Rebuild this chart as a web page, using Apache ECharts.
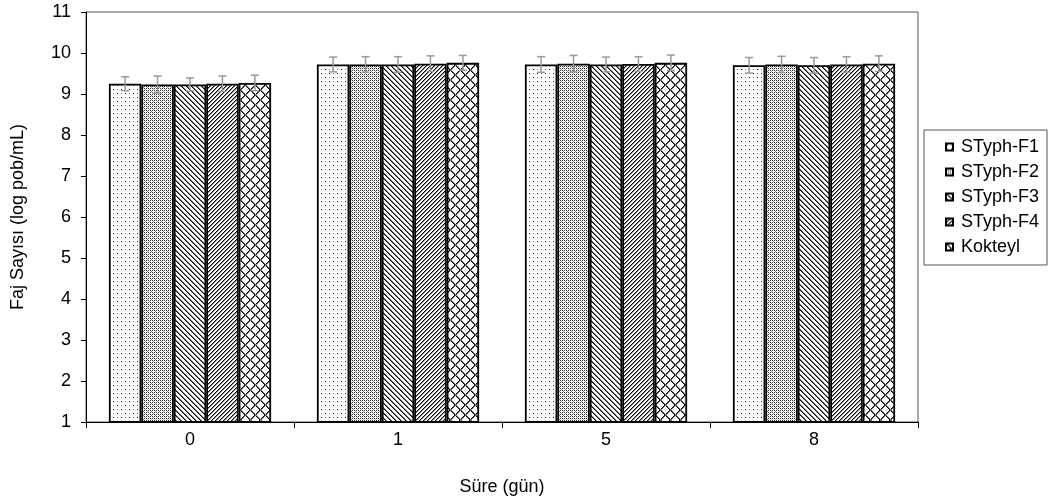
<!DOCTYPE html>
<html>
<head>
<meta charset="utf-8">
<script src="https://cdn.jsdelivr.net/npm/echarts@6/dist/echarts.min.js"></script>
<style>
html,body{margin:0;padding:0;background:#fff;}
#c{width:1052px;height:501px;}
</style>
</head>
<body>
<div id="c"></div>
<script>
// ---- data ----
var categories = ['0', '1', '5', '8'];
var seriesNames = ['STyph-F1', 'STyph-F2', 'STyph-F3', 'STyph-F4', 'Kokteyl'];
var f1 = [9.25, 9.72, 9.72, 9.70];
var f2 = [9.23, 9.72, 9.74, 9.72];
var f3 = [9.23, 9.72, 9.72, 9.70];
var f4 = [9.25, 9.74, 9.73, 9.72];
var kok = [9.27, 9.76, 9.76, 9.74];
var e1 = [0.17, 0.18, 0.19, 0.19];
var e2 = [0.21, 0.19, 0.20, 0.20];
var e3 = [0.16, 0.19, 0.18, 0.19];
var e4 = [0.19, 0.19, 0.18, 0.19];
var eK = [0.19, 0.18, 0.19, 0.19];
var yTicks = [1, 11, 1]; // min, max, interval

var values = [f1, f2, f3, f4, kok];
var errors = [e1, e2, e3, e4, eK];

// ---- patterns ----
function makeCanvas(w, h, draw) {
  var c = document.createElement('canvas');
  c.width = w; c.height = h;
  var ctx = c.getContext('2d');
  ctx.fillStyle = '#fff';
  ctx.fillRect(0, 0, w, h);
  ctx.fillStyle = '#000';
  draw(ctx, w, h);
  return c;
}
var patterns = [
  makeCanvas(8, 8, function (ctx) {
    ctx.fillRect(1, 1, 1, 1);
    ctx.fillRect(5, 5, 1, 1);
    ctx.fillStyle = '#888';
    ctx.fillRect(5, 1, 1, 1);
    ctx.fillRect(1, 5, 1, 1);
  }),
  makeCanvas(4, 4, function (ctx) {
    ctx.fillStyle = '#333';
    ctx.fillRect(0, 0, 1, 1);
    ctx.fillRect(2, 0, 1, 1);
    ctx.fillRect(0, 2, 1, 1);
    ctx.fillRect(2, 2, 1, 1);
    ctx.fillStyle = '#999';
    ctx.fillRect(1, 1, 1, 1);
    ctx.fillRect(3, 3, 1, 1);
  }),
  makeCanvas(5, 5, function (ctx) {
    for (var i = 0; i < 5; i++) { ctx.fillRect(i, i, 1, 1); }
    ctx.fillStyle = '#777';
    for (var j = 0; j < 5; j++) { ctx.fillRect((j + 1) % 5, j, 1, 1); }
  }),
  makeCanvas(4, 4, function (ctx) {
    for (var i = 0; i < 4; i++) { ctx.fillRect(3 - i, i, 1, 1); }
    ctx.fillStyle = '#888';
    for (var j = 0; j < 4; j++) { ctx.fillRect((4 - j) % 4, j, 1, 1); }
  }),
  makeCanvas(10, 10, function (ctx) {
    for (var i = 0; i < 10; i++) {
      ctx.fillRect(i, i, 1, 1);
      ctx.fillRect(9 - i, i, 1, 1);
    }
    ctx.fillStyle = '#666';
    for (var j = 0; j < 10; j++) {
      ctx.fillRect((j + 1) % 10, j, 1, 1);
      ctx.fillRect((10 - j) % 10, j, 1, 1);
    }
  })
];

var FONT = 'Liberation Sans, Arial, sans-serif';
var FS = 18;
var chart = echarts.init(document.getElementById('c'), null, {renderer: 'canvas'});

var CAT_GAP = 0.22;
var series = seriesNames.map(function (name, s) {
  return {
    name: name,
    type: 'bar',
    data: values[s],
    barGap: '0%',
    barCategoryGap: (CAT_GAP * 100) + '%',
    itemStyle: {
      color: {image: patterns[s], repeat: 'repeat'},
      borderColor: '#000',
      borderWidth: 1.8
    },
    emphasis: {disabled: true},
    z: 2
  };
});

var errData = [];
for (var s = 0; s < values.length; s++) {
  for (var c = 0; c < categories.length; c++) {
    errData.push([c, values[s][c], errors[s][c], s]);
  }
}
series.push({
  type: 'custom',
  name: 'err',
  data: errData,
  encode: {x: 0, y: 1},
  z: 5,
  silent: true,
  renderItem: function (params, api) {
    var cat = api.value(0), v = api.value(1), e = api.value(2), si = api.value(3);
    var band = api.size([1, 0])[0];
    var groupW = band * (1 - CAT_GAP);
    var barW = groupW / 5;
    var center = api.coord([cat, v])[0];
    var cx = center - groupW / 2 + barW * (si + 0.5);
    var yTop = api.coord([cat, v + e])[1];
    var yBot = api.coord([cat, v - e])[1];
    var hw = 4;
    var st = {stroke: '#999', lineWidth: 1.5, fill: null};
    return {
      type: 'group',
      children: [
        {type: 'line', shape: {x1: cx, y1: yTop, x2: cx, y2: yBot}, style: st},
        {type: 'line', shape: {x1: cx - hw, y1: yTop, x2: cx + hw, y2: yTop}, style: st},
        {type: 'line', shape: {x1: cx - hw, y1: yBot, x2: cx + hw, y2: yBot}, style: st}
      ]
    };
  }
});

var option = {
  animation: false,
  backgroundColor: '#fff',
  textStyle: {fontFamily: FONT},
  grid: {
    left: 86, top: 12, right: 134, bottom: 75,
    show: true, borderColor: '#555', borderWidth: 1, backgroundColor: 'transparent'
  },
  legend: {
    data: seriesNames,
    orient: 'vertical',
    left: 924, top: 130,
    padding: [8, 8, 9, 21],
    itemGap: 7,
    itemWidth: 7, itemHeight: 7,
    icon: 'rect',
    borderColor: '#555', borderWidth: 1,
    textStyle: {fontFamily: FONT, fontSize: FS, color: '#000', padding: [0, 0, 0, 3]},
    selectedMode: false
  },
  xAxis: {
    type: 'category',
    data: categories,
    name: 'Süre (gün)',
    nameLocation: 'middle',
    nameGap: 56,
    nameTextStyle: {fontFamily: FONT, fontSize: FS, color: '#000'},
    axisLine: {lineStyle: {color: '#000', width: 1}},
    axisTick: {show: true, length: 6, lineStyle: {color: '#000'}},
    axisLabel: {fontFamily: FONT, fontSize: FS, color: '#000', margin: 9},
    splitLine: {show: false}
  },
  yAxis: {
    type: 'value',
    min: yTicks[0], max: yTicks[1], interval: yTicks[2],
    name: 'Faj Sayısı (log pob/mL)',
    nameLocation: 'middle',
    nameGap: 59,
    nameTextStyle: {fontFamily: FONT, fontSize: FS, color: '#000'},
    axisLine: {show: true, lineStyle: {color: '#000', width: 1}},
    axisTick: {show: true, length: 5, lineStyle: {color: '#000'}},
    axisLabel: {fontFamily: FONT, fontSize: FS, color: '#000', margin: 15},
    splitLine: {show: false}
  },
  series: series
};
chart.setOption(option);
</script>
</body>
</html>
